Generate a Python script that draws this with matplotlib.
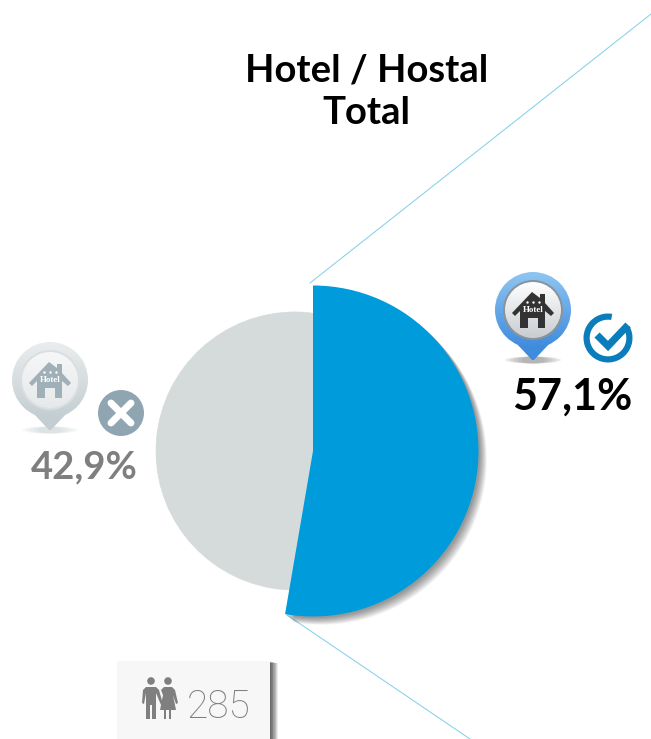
import matplotlib
matplotlib.use("Agg")
import matplotlib.pyplot as plt
import matplotlib.patheffects as pe
from matplotlib.patches import Circle, Ellipse, Polygon, Rectangle, Wedge
import numpy as np

W, H = 651, 739

title_lines = ["Hotel / Hostal", "Total"]
yes_label = "57,1%"
no_label = "42,9%"
sample_label = "285"
pie_shares = [52.7, 47.3]  # what the drawn slice really shows

BLUE = "#009bdb"
GRAY = "#d5dadb"
TEXTGRAY = "#7f7f7f"
LINE = "#86d0ea"
FONT = "Lato"


def Y(py):
    # picture pixels count from the top
    return H - py


fig = plt.figure(figsize=(W / 100, H / 100), dpi=100)
ax = fig.add_axes([0, 0, 1, 1])

# connector lines
ax.plot([310, 651], [Y(283), Y(14)], color=LINE, lw=0.75, zorder=1)
ax.plot([287, 470], [Y(615), Y(739)], color=LINE, lw=0.75, zorder=1)

# gray disc sits a bit to the left of the blue slice
gray_wedges, _ = ax.pie(pie_shares, center=(295, Y(451)), radius=139, colors=[GRAY, GRAY],
                        startangle=90, counterclock=False, wedgeprops=dict(edgecolor=GRAY, lw=0.5))
for w in gray_wedges:
    w.set_zorder(2)

blue_wedges, _ = ax.pie(pie_shares, center=(313, Y(451)), radius=165.5, colors=[BLUE, "none"],
                        startangle=90, counterclock=False)
blue_wedges[1].set_visible(False)
blue_wedges[0].set_zorder(3)
shadow = [pe.SimplePatchShadow(offset=(d, -d), shadow_rgbFace="k", alpha=0.045)
          for d in (6, 5.5, 5, 4.5, 4, 3.5, 3, 2.5, 2, 1.5, 1)]
blue_wedges[0].set_path_effects(shadow + [pe.Normal()])


def gradient(clip, extent, top, bottom, z):
    c = np.linspace(np.array(matplotlib.colors.to_rgb(top)), np.array(matplotlib.colors.to_rgb(bottom)), 64)[:, None, :]
    im = ax.imshow(c, extent=extent, origin="upper", aspect="auto", zorder=z, interpolation="bilinear")
    im.set_clip_path(clip)


def pin(cx, cy, tip, outer, ring, button, house, shadow_col):
    for k in (56, 48, 40, 32, 24):
        ax.add_patch(Ellipse((cx, Y(tip)), k, 7, fc=shadow_col, ec="none", alpha=0.14, zorder=4))
    # pin body is a circle with a small pointed foot
    foot = Polygon([(cx - 17, Y(cy + 33)), (cx + 17, Y(cy + 33)), (cx + 1, Y(tip)), (cx - 1, Y(tip))],
                   fc=outer[1], ec="none", zorder=5)
    ax.add_patch(foot)
    body = Circle((cx, Y(cy)), 38, fc="none", ec="none", zorder=5)
    ax.add_patch(body)
    gradient(body, (cx - 38, cx + 38, Y(cy + 38), Y(cy - 38)), outer[0], outer[1], 5)
    ax.add_patch(Circle((cx, Y(cy)), 30, fc=ring, ec="none", zorder=6))
    face = Circle((cx, Y(cy)), 28, fc="none", ec="none", zorder=6)
    ax.add_patch(face)
    gradient(face, (cx - 28, cx + 28, Y(cy + 28), Y(cy - 28)), button[0], button[1], 7)
    rel = [(-21, 3), (-1, -18), (7, -12), (7, -16), (12, -16), (12, -7), (21, 3), (18, 6), (12, 1), (12, 18),
           (5, 18), (5, 8), (-5, 8), (-5, 18), (-13, 18), (-13, 1), (-18, 6)]
    ax.add_patch(Polygon([(cx + x, Y(cy + y)) for x, y in rel], fc=house, ec="none", zorder=8))
    ax.text(cx, Y(cy), "Hotel", color="white", fontsize=6.5, fontweight="bold", family="Liberation Serif",
            ha="center", va="center", zorder=9)
    ax.scatter([cx - 6, cx, cx + 6], [Y(cy - 8)] * 3, s=3, color="white", zorder=9, linewidths=0)


pin(533, 310, 360, ("#8ec6f2", "#3f8bdc"), "#8a939b", ("#ffffff", "#c9cdd0"), "#333333", "#777777")
pin(50, 380, 430, ("#e9edee", "#c4ced2"), "#d9dee0", ("#f6f7f7", "#e6e9ea"), "#9fb0b8", "#c4ced2")

# tick badge
ax.add_patch(Wedge((608, Y(338)), 24.5, 80, 390, width=6.2, fc="#0b7dbb", ec="none", zorder=5))
ax.plot([597, 608, 628], [Y(335), Y(346), Y(325)], color="#0b7dbb", lw=5.2, solid_joinstyle="miter",
        solid_capstyle="butt", zorder=6)

# cross badge
ax.add_patch(Circle((121, Y(413)), 23, fc="#8fa6b2", ec="none", zorder=5))
for sx in (-1, 1):
    ax.plot([121 - 10 * sx, 121 + 10 * sx], [Y(403), Y(423)], color="white", lw=5, solid_capstyle="round", zorder=6)

# sample box, runs off the bottom of the picture
box = Rectangle((117, Y(739) - 5), 153, 739 - 661 + 5, fc="#f7f7f7", ec="none", zorder=2)
box.set_path_effects([pe.SimplePatchShadow(offset=(d, -d * 0.3), shadow_rgbFace="k", alpha=0.08)
                      for d in (5.5, 5, 4.5, 4, 3.5, 3, 2.5, 2, 1.5, 1)] + [pe.Normal()])
ax.add_patch(box)

# people icon
ax.add_patch(Circle((151, Y(681)), 3.8, fc=TEXTGRAY, ec="none", zorder=4))
ax.add_patch(Circle((168, Y(681)), 3.8, fc=TEXTGRAY, ec="none", zorder=4))
man = [(146, 687), (156, 687), (159, 690), (163, 704), (161, 705), (156, 693), (156, 719), (152, 719), (152, 705),
       (150, 705), (150, 719), (146, 719), (146, 693), (144, 704), (142, 703), (143, 690)]
woman = [(164, 687), (172, 687), (175, 690), (178, 703), (176, 704), (173, 695), (176, 710), (171, 710), (171, 719),
         (169, 719), (169, 710), (166, 710), (166, 719), (164, 719), (164, 710), (160, 710), (163, 695), (161, 690)]
ax.add_patch(Polygon([(x, Y(y)) for x, y in man], fc=TEXTGRAY, ec="none", zorder=4))
ax.add_patch(Polygon([(x, Y(y)) for x, y in woman], fc=TEXTGRAY, ec="none", zorder=4))
ax.text(187, Y(718), sample_label, color=TEXTGRAY, fontsize=28, family="Roboto", fontweight="light",
        ha="left", va="baseline", zorder=4)

# texts
ax.text(366.5, Y(81), title_lines[0], color="black", fontsize=27.5, family=FONT, fontweight="bold", ha="center", va="baseline", zorder=10)
ax.text(366.5, Y(124), title_lines[1], color="black", fontsize=27.5, family=FONT, fontweight="bold", ha="center", va="baseline", zorder=10)
ax.text(572, Y(410), yes_label, color="black", fontsize=31, family=FONT, fontweight="bold", ha="center", va="baseline", zorder=10)
ax.text(84.5, Y(478), no_label, color=TEXTGRAY, fontsize=27.5, family=FONT, fontweight="bold", ha="center", va="baseline", zorder=10)

ax.set_xlim(0, W)
ax.set_ylim(0, H)
ax.set_aspect("auto")
ax.axis("off")
fig.savefig("out.png", dpi=100)
